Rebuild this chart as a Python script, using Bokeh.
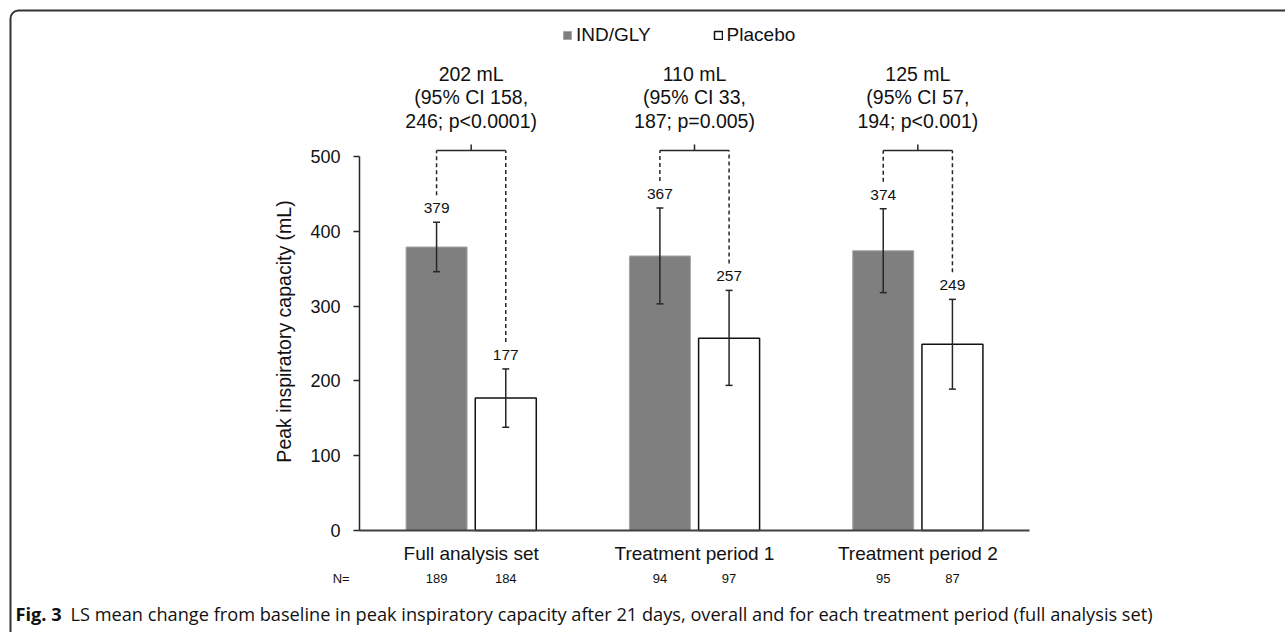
from math import pi
from bokeh.plotting import figure
from bokeh.models import (Range1d, FixedTicker, ColumnDataSource, Whisker, TeeHead,
                          Legend, LegendItem, Label, LabelSet, BoxAnnotation)
from bokeh.core.properties import value
from bokeh.embed import file_html
from bokeh.resources import INLINE

# ---------------- data ----------------
categories = ["Full analysis set", "Treatment period 1", "Treatment period 2"]
series = ["IND/GLY", "Placebo"]
ind_gly = [379, 367, 374]
placebo = [177, 257, 249]
ind_gly_lo = [346, 303, 318]
ind_gly_hi = [412, 431, 430]
placebo_lo = [138, 194, 189]
placebo_hi = [216, 321, 309]
n_ind_gly = [189, 94, 95]
n_placebo = [184, 97, 87]
diff = [202, 110, 125]
diff_ci_lo = [158, 33, 57]
diff_ci_hi = [246, 187, 194]
diff_p = ["p<0.0001", "p=0.005", "p<0.001"]
y_ticks = [0, 100, 200, 300, 400, 500]
y_title = "Peak inspiratory capacity (mL)"
n_label = "N="
caption_bold = "Fig. 3"
caption_text = ("LS mean change from baseline in peak inspiratory capacity after 21 days, "
                "overall and for each treatment period (full analysis set)")

# ---------------- geometry ----------------
W, H = 1285, 632
PX_X = 223.33      # pixels per category unit
PX_Y = 0.748       # pixels per mL
ORG_X, ORG_Y = 359, 530   # canvas position of the data origin


def dx(px):
    return (px - ORG_X) / PX_X


def dy(py):
    return (ORG_Y - py) / PX_Y


FONT = "Liberation Sans"
DARK = "#262626"
TXT = "#111111"

p = figure(width=W, height=H, output_backend="svg", toolbar_location=None,
           x_range=Range1d(dx(0), dx(W)), y_range=Range1d(dy(H), dy(0)),
           min_border_left=0, min_border_right=0, min_border_top=0, min_border_bottom=0)
p.grid.visible = False
p.outline_line_color = None
p.background_fill_color = "white"
p.border_fill_color = "white"

off = 34.6 / PX_X
bw = 61 / PX_X
centers = [i + 0.5 for i in range(len(categories))]
x_ind = [c - off for c in centers]
x_pl = [c + off for c in centers]

r1 = p.vbar(x=x_ind, top=ind_gly, width=bw, fill_color="#7f7f7f",
            line_color="#a6a6a6", line_width=1)
r2 = p.vbar(x=x_pl, top=placebo, width=bw, fill_color="white",
            line_color="#111111", line_width=1.5)

# error bars
err = ColumnDataSource(dict(x=x_ind + x_pl, lo=ind_gly_lo + placebo_lo,
                            hi=ind_gly_hi + placebo_hi))
w = Whisker(source=err, base="x", upper="hi", lower="lo", line_color=DARK, line_width=1.5,
            level="overlay",
            upper_head=TeeHead(size=7, line_color=DARK, line_width=1.5),
            lower_head=TeeHead(size=7, line_color=DARK, line_width=1.5))
p.add_layout(w)

# value labels
vals = ind_gly + placebo
p.text(x=x_ind + x_pl, y=ind_gly_hi + placebo_hi, text=[str(v) for v in vals],
       y_offset=-14, text_align="center", text_baseline="middle",
       text_font=value(FONT), text_font_size="15.5px", text_color=TXT)

# brackets
bracket_y = dy(150)
his = ind_gly_hi + placebo_hi
p.segment(x0=x_ind + x_pl, y0=[h + 27 / PX_Y for h in his], x1=x_ind + x_pl,
          y1=[bracket_y] * len(his), line_color=DARK, line_width=1.5, line_dash="4 3")
p.segment(x0=x_ind, y0=[bracket_y] * 3, x1=x_pl, y1=[bracket_y] * 3,
          line_color=DARK, line_width=1.5)
p.segment(x0=centers, y0=[bracket_y] * 3, x1=centers, y1=[bracket_y + 6 / PX_Y] * 3,
          line_color=DARK, line_width=1.5)

# difference annotations
ax, ay, aoff, atext = [], [], [], []
for c, d, lo, hi, pv in zip(centers, diff, diff_ci_lo, diff_ci_hi, diff_p):
    lines = [f"{d} mL", f"(95% CI {lo},", f"{hi}; {pv})"]
    for ln, o in zip(lines, [-77, -53.3, -30]):
        ax.append(c)
        ay.append(bracket_y)
        aoff.append(o)
        atext.append(ln)
p.text(x=ax, y=ay, y_offset=aoff, text=atext, text_align="center", text_baseline="middle",
       text_font=value(FONT), text_font_size="19.5px", text_color=TXT)

# axes (fixed at the data origin so that the whole canvas is the plot frame)
p.yaxis.fixed_location = 0
p.yaxis.bounds = (0, 500)
p.yaxis.ticker = FixedTicker(ticks=y_ticks)
p.yaxis.major_tick_out = 6
p.yaxis.major_tick_in = 0
p.yaxis.minor_tick_line_color = None
p.yaxis.axis_line_color = DARK
p.yaxis.axis_line_width = 1.5
p.yaxis.major_tick_line_color = DARK
p.yaxis.major_tick_line_width = 1.5
p.yaxis.major_label_text_font = FONT
p.yaxis.major_label_text_font_size = "18px"
p.yaxis.major_label_text_color = TXT
p.yaxis.major_label_standoff = 13

p.xaxis.fixed_location = 0
p.xaxis.bounds = (0, 3)
p.xaxis.ticker = FixedTicker(ticks=centers)
p.xaxis.major_label_overrides = {c: name for c, name in zip(centers, categories)}
p.xaxis.major_tick_in = 0
p.xaxis.major_tick_out = 0
p.xaxis.minor_tick_line_color = None
p.xaxis.major_tick_line_color = None
p.xaxis.axis_line_color = "#404040"
p.xaxis.axis_line_width = 2
p.xaxis.major_label_text_font = FONT
p.xaxis.major_label_text_font_size = "19px"
p.xaxis.major_label_text_color = TXT
p.xaxis.major_label_standoff = 12

p.add_layout(Label(x=dx(283), y=dy(331), text=y_title, angle=pi / 2, text_align="center",
                   text_baseline="middle", text_font=FONT, text_font_size="19.5px",
                   text_color=TXT))

# N row
nsrc = ColumnDataSource(dict(x=x_ind + x_pl, y=[dy(578)] * 6,
                             t=[str(n) for n in n_ind_gly + n_placebo]))
p.add_layout(LabelSet(source=nsrc, x="x", y="y", text="t", text_align="center",
                      text_baseline="middle", text_font=value(FONT), text_font_size="13px",
                      text_color=TXT))
p.add_layout(Label(x=dx(340.7), y=dy(578), text=n_label, text_align="center",
                   text_baseline="middle", text_font=FONT, text_font_size="13px",
                   text_color=TXT))

# legend
legend = Legend(items=[LegendItem(label=series[0], renderers=[r1]),
                       LegendItem(label=series[1], renderers=[r2])],
                location=(562, H - 46), orientation="horizontal", glyph_width=10,
                glyph_height=10, label_standoff=4, spacing=62, padding=0, margin=0,
                border_line_color=None, background_fill_alpha=0, label_text_font=FONT,
                label_text_font_size="19px", label_text_color=TXT)
p.add_layout(legend)

# caption
p.add_layout(Label(x=dx(15), y=dy(613), text=caption_bold, text_font="Open Sans",
                   text_font_style="bold", text_font_size="18.2px", text_align="left",
                   text_baseline="middle", text_color=TXT))
p.add_layout(Label(x=dx(70), y=dy(613), text=caption_text, text_font="Open Sans",
                   text_font_size="18.2px", text_align="left", text_baseline="middle",
                   text_color=TXT))

# outer frame
p.add_layout(BoxAnnotation(left=dx(10), right=dx(1500), top=dy(10), bottom=dy(760),
                           fill_alpha=0, fill_color=None, line_color="#333333",
                           line_alpha=1.0, line_width=2, border_radius=8))

open("out.html", "w").write(file_html(p, INLINE))
